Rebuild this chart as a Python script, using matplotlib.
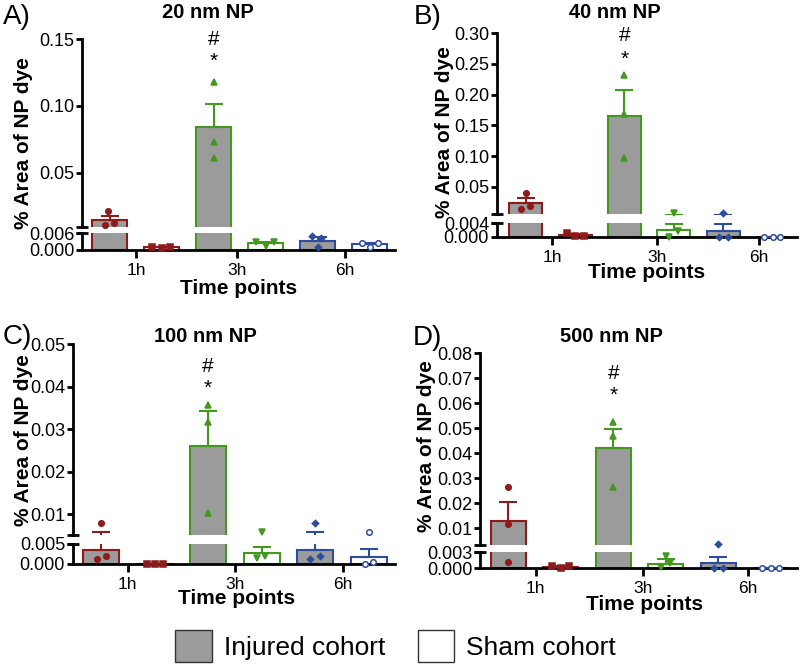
import matplotlib
matplotlib.use('Agg')
import matplotlib.pyplot as plt
from matplotlib.patches import Patch
import numpy as np

plt.rcParams['font.family'] = ['Liberation Sans', 'DejaVu Sans']

W, H = 800, 668

TIMES = ['1h', '3h', '6h']
COHORTS = ['Injured cohort', 'Sham cohort']
TITLES = ['20 nm NP', '40 nm NP', '100 nm NP', '500 nm NP']
LETTERS = ['A)', 'B)', 'C)', 'D)']
YLABEL = '% Area of NP dye'
XLABEL = 'Time points'

# bar order: 1h injured, 1h sham, 3h injured, 3h sham, 6h injured, 6h sham
MEAN_20 = [0.0142, 0.0010, 0.0843, 0.0025, 0.0034, 0.0021]
SEM_20 = [0.0032, 0.0002, 0.0172, 0.0005, 0.0012, 0.0005]
DOTS_20 = [[0.0104, 0.0210, 0.0119], [0.0012, 0.0006, 0.0012], [0.118, 0.073, 0.061],
           [0.0030, 0.0015, 0.0030], [0.0052, 0.0010, 0.0044], [0.0026, 0.0012, 0.0026]]

MEAN_40 = [0.023, 0.0004, 0.166, 0.0021, 0.0017, 0.0]
SEM_40 = [0.008, 0.0003, 0.041, 0.0018, 0.0022, 0.0]
DOTS_40 = [[0.0137, 0.039, 0.019], [0.001, 0.0001, 0.0001], [0.232, 0.169, 0.097],
           [0.0, 0.0076, 0.0018], [0.0, 0.0066, 0.0], [0.0, 0.0, 0.0]]

MEAN_100 = [0.0035, 0.0, 0.0261, 0.0028, 0.0036, 0.0017]
SEM_100 = [0.0023, 0.0, 0.0081, 0.0014, 0.0022, 0.0020]
DOTS_100 = [[0.0012, 0.0079, 0.0020], [0.0, 0.0, 0.0], [0.0357, 0.0316, 0.0102],
            [0.0014, 0.0058, 0.0021], [0.0012, 0.0079, 0.0020], [0.0, 0.0058, 0.0006]]

MEAN_500 = [0.0130, 0.0003, 0.0421, 0.0009, 0.0010, 0.0001]
SEM_500 = [0.0074, 0.0002, 0.0078, 0.0008, 0.0011, 0.0]
DOTS_500 = [[0.0266, 0.0116, 0.0012], [0.0005, 0.0, 0.0005], [0.0526, 0.0468, 0.0267],
            [0.0003, 0.0023, 0.0010], [0.0, 0.0036, 0.0], [0.0001, 0.0001, 0.0001]]

# upper / lower segment ticks of the broken y axis
UP_TICKS = [[0.05, 0.10, 0.15], [0.05, 0.10, 0.15, 0.20, 0.25, 0.30],
            [0.01, 0.02, 0.03, 0.04, 0.05], [0.01, 0.02, 0.03, 0.04, 0.05, 0.06, 0.07, 0.08]]
LO_TICKS = [[0.0, 0.006], [0.0, 0.004], [0.0, 0.005], [0.0, 0.003]]

MEANS = [MEAN_20, MEAN_40, MEAN_100, MEAN_500]
SEMS = [SEM_20, SEM_40, SEM_100, SEM_500]
DOTS = [DOTS_20, DOTS_40, DOTS_100, DOTS_500]

RED, GREEN, BLUE = '#8e1b1b', '#43981f', '#2f4d9e'
GREY = '#9b9b9b'
COLORS = [RED, RED, GREEN, GREEN, BLUE, BLUE]
FACES = [GREY, 'white'] * 3
MARKERS = ['o', 's', '^', 'v', 'D', 'o']

# ---- layout (pixels in the 800x668 picture) ----
LAYOUT = [
    dict(x0=82, x1=395, ut=39.3, ub=227.3, lt=233.3, lb=250, uy=(0.009, 0.15), ly=0.006,
         xlim=(-0.53, 5.49), xt=[0.51, 2.46, 4.52], title=(208, 13), letter=(17, 17),
         ylab=(24, 143), xlab=(239, 288), marks=(0.150, 0.1334)),
    dict(x0=496.7, x1=796.7, ut=33.3, ub=214, lt=222.6, lb=236.7, uy=(0.0055, 0.30), ly=0.0042,
         xlim=(-0.59, 5.49), xt=[0.54, 2.66, 4.72], title=(615, 13), letter=(428, 17),
         ylab=(444, 132), xlab=(647, 272), marks=(0.297, 0.2573)),
    dict(x0=72.7, x1=395, ut=344.3, ub=535, lt=544, lb=564, uy=(0.0051, 0.05), ly=0.005,
         xlim=(-0.53, 5.49), xt=[0.50, 2.51, 4.52], title=(205, 337), letter=(17, 337),
         ylab=(24, 440), xlab=(237, 599), marks=(0.0447, 0.0396)),
    dict(x0=480, x1=797, ut=353.3, ub=545, lt=552.3, lb=568.3, uy=(0.0033, 0.08), ly=0.003,
         xlim=(-0.54, 5.50), xt=[0.52, 2.56, 4.57], title=(612, 337), letter=(427, 338),
         ylab=(427, 446), xlab=(645, 604), marks=(0.0721, 0.0631)),
]
OFFSETS = [
    [[-0.09, -0.03, 0.09], [-0.19, 0, 0.16], [0, 0, 0], [-0.19, 0, 0.17], [-0.1, 0, 0.07], [-0.15, 0, 0.17]],
    [[-0.09, 0, 0.08], [-0.16, 0, 0.17], [0, 0, 0], [-0.09, 0, 0.08], [-0.075, 0, 0.09], [-0.17, 0, 0.16]],
    [[-0.08, 0, 0.09], [-0.14, 0, 0.16], [0, 0, 0], [-0.09, 0, 0.07], [-0.09, 0, 0.09], [-0.075, 0, 0.08]],
    [[0, 0, 0], [-0.16, 0, 0.16], [0, 0, 0], [-0.1, 0, 0.08], [-0.09, 0, 0.09], [-0.16, 0, 0.16]],
]


def px_rect(x0, x1, top, bot):
    return [x0 / W, 1 - bot / H, (x1 - x0) / W, (bot - top) / H]


def fpos(x, y):
    return x / W, 1 - y / H


fig = plt.figure(figsize=(W / 100, H / 100), dpi=100)


def draw_panel(i):
    lay = LAYOUT[i]
    means, sems, dots = MEANS[i], SEMS[i], DOTS[i]
    up = fig.add_axes(px_rect(lay['x0'], lay['x1'], lay['ut'], lay['ub']))
    lo = fig.add_axes(px_rect(lay['x0'], lay['x1'], lay['lt'], lay['lb']))
    x = np.arange(len(means))

    for ax in (up, lo):
        ax.set_facecolor('none')
        ax.bar(x, means, width=0.67, color=FACES, edgecolor=COLORS, linewidth=1.5, zorder=2)
        for k in range(len(means)):
            ax.errorbar(x[k], means[k], yerr=[[0], [sems[k]]], fmt='none', ecolor=COLORS[k],
                        elinewidth=1.5, capsize=6.5, capthick=1.5, zorder=3)
        ax.set_xlim(*lay['xlim'])
        for s in ['top', 'right']:
            ax.spines[s].set_visible(False)
        ax.spines['left'].set_linewidth(2)
        ax.tick_params(axis='y', length=4, width=2, labelsize=13, pad=1.5)

    up.set_ylim(*lay['uy'])
    lo.set_ylim(0, lay['ly'])
    up.spines['bottom'].set_visible(False)
    up.set_xticks([])
    up.set_yticks(UP_TICKS[i])
    up.set_yticklabels([f'{t:.2f}' for t in UP_TICKS[i]])
    lo.set_yticks(LO_TICKS[i])
    lo.set_yticklabels([f'{t:.3f}' for t in LO_TICKS[i]])
    lo.spines['bottom'].set_linewidth(2)
    lo.set_xticks(lay['xt'])
    lo.set_xticklabels(TIMES)
    lo.tick_params(axis='x', length=5.5, width=2, labelsize=12.5, pad=4)

    # the little end caps at the axis break
    up.plot([0], [0], marker='_', ms=8, mew=2, color='black', transform=up.transAxes, clip_on=False)
    lo.plot([0], [1], marker='_', ms=8, mew=2, color='black', transform=lo.transAxes, clip_on=False)

    # individual animals
    for k in range(len(means)):
        for v, dx in zip(dots[k], OFFSETS[i][k]):
            ax = up if v >= lay['uy'][0] else lo
            face = 'white' if k == 5 else COLORS[k]
            ms = 3.2 if MARKERS[k] == 'D' else 4.0
            ax.plot(x[k] + dx, v, marker=MARKERS[k], ms=ms, mfc=face, mec=COLORS[k], mew=1.1,
                    ls='none', clip_on=False, zorder=5)

    # significance marks above the 3h injured bar
    up.text(2, lay['marks'][0], '#', ha='center', va='center', fontsize=15, clip_on=False)
    up.text(2, lay['marks'][1], '*', ha='center', va='center', fontsize=15, clip_on=False)

    up.set_ylabel(YLABEL, fontsize=15, fontweight='bold')
    up.yaxis.set_label_coords(*fpos(*lay['ylab']), transform=fig.transFigure)
    up.yaxis.label.set_va('center')
    lo.set_xlabel(XLABEL, fontsize=15, fontweight='bold')
    lo.xaxis.set_label_coords(*fpos(*lay['xlab']), transform=fig.transFigure)
    lo.xaxis.label.set_va('center')

    fig.text(*fpos(*lay['title']), TITLES[i], ha='center', va='center', fontsize=14.5, fontweight='bold')
    fig.text(*fpos(*lay['letter']), LETTERS[i], ha='center', va='center', fontsize=20)


for i in range(4):
    draw_panel(i)

handles = [Patch(facecolor=GREY, edgecolor='#333333', linewidth=1),
           Patch(facecolor='white', edgecolor='#333333', linewidth=1)]
fig.legend(handles, COHORTS, loc='center', bbox_to_anchor=fpos(395.5, 646), ncol=2, frameon=False,
           fontsize=19, handlelength=1.39, handleheight=1.44, handletextpad=0.45, columnspacing=1.24)

fig.savefig('out.png', dpi=100, facecolor='white')
